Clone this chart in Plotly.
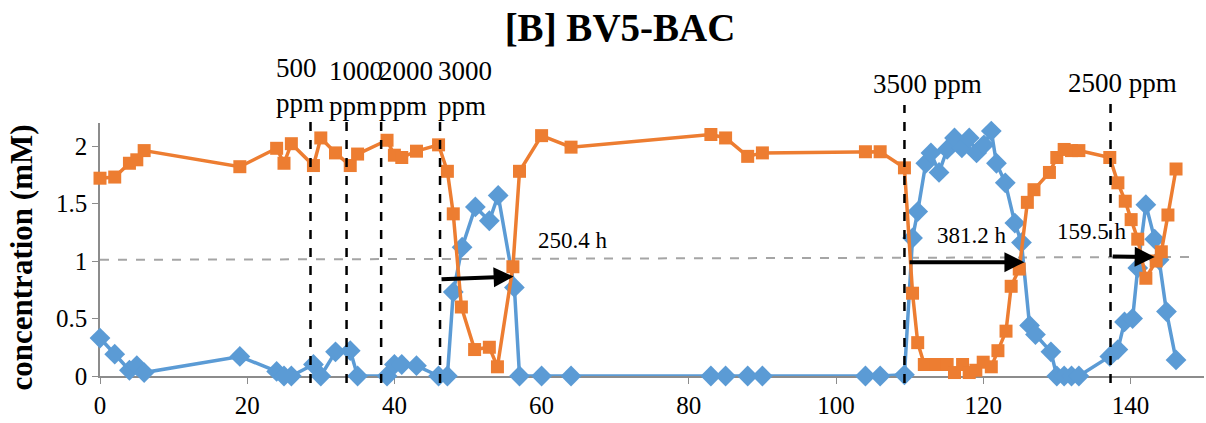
import plotly.graph_objects as go

# ---------------- data ----------------
orange_t = [0, 2, 4, 5, 6, 19, 24, 25, 26, 29, 30, 32, 34, 35, 39, 40, 41, 43, 46,
            47.2, 48, 49.1, 50.9, 52.9, 54, 56.1, 57, 60, 64, 83, 85, 88, 90, 104, 106,
            109.3, 110.4, 111.1, 112, 113.6, 115.1, 116.1, 117.2, 118.1, 119, 120, 121.1,
            122, 123.1, 123.8, 124.9, 126, 126.9, 129, 130, 131, 132, 133,
            137.2, 138.3, 139.3, 140.1, 141, 142.1, 143.5, 144.2, 145.1, 146.2]
orange_c = [1.72, 1.73, 1.85, 1.88, 1.96, 1.82, 1.98, 1.85, 2.02, 1.83, 2.07, 1.94, 1.83, 1.93, 2.05, 1.92, 1.90, 1.955, 2.01,
            1.78, 1.41, 0.60, 0.23, 0.25, 0.08, 0.95, 1.78, 2.09, 1.99, 2.10, 2.07, 1.91, 1.94, 1.95, 1.95,
            1.81, 0.72, 0.29, 0.10, 0.10, 0.10, 0.03, 0.10, 0.03, 0.05, 0.12, 0.08,
            0.22, 0.39, 0.78, 0.93, 1.51, 1.62, 1.77, 1.90, 1.97, 1.96, 1.96,
            1.90, 1.68, 1.52, 1.36, 1.19, 0.85, 1.00, 1.08, 1.40, 1.80]

blue_t = [0, 2, 4, 5, 6, 19, 24, 25, 26, 29, 30, 32, 34, 35, 39, 40, 41, 43, 46,
          47.2, 48, 49.2, 51, 52.9, 54.1, 56.3, 57, 60, 64, 83, 85, 88, 90, 104, 106,
          109.3, 110.4, 111.1, 112.2, 112.9, 114, 115.1, 116.1, 117.1, 118.1, 119.1, 120.1, 121.1,
          121.8, 123, 124.3, 125.2, 126.3, 127.1, 129.2, 130, 131, 132, 133,
          137.2, 138.3, 139.2, 140.3, 141, 142.1, 143.3, 143.9, 144.9, 146.2]
blue_c = [0.33, 0.19, 0.05, 0.09, 0.03, 0.17, 0.04, 0, 0, 0.10, 0, 0.21, 0.22, 0, 0, 0.10, 0.10, 0.09, 0,
          0, 0.73, 1.12, 1.47, 1.35, 1.57, 0.77, 0, 0, 0, 0, 0, 0, 0, 0, 0,
          0.01, 1.20, 1.43, 1.85, 1.94, 1.77, 1.97, 2.07, 1.985, 2.07, 1.94, 2.01, 2.13,
          1.85, 1.68, 1.33, 1.16, 0.44, 0.36, 0.21, 0, 0, 0, 0,
          0.17, 0.23, 0.47, 0.50, 0.94, 1.49, 1.19, 1.01, 0.56, 0.14]

# concentration change events (time h) and their labels
event_t = [28.6, 33.5, 38.2, 46.2, 109.3, 137.3]
event_top = [1.04, 1.004, 1.004, 1.024, 1.071, 1.099]   # paper
event_labels = ["500<br>ppm", "1000<br>ppm", "2000<br>ppm", "3000<br>ppm", "3500 ppm", "2500 ppm"]
event_label_x = [23.7, 30.8, 37.6, 45.7, 104.8, 131.2]
event_label_y = [1.150, 1.138, 1.138, 1.138, 1.154, 1.160]

# breakthrough arrows (start t, start c, end t, end c) and labels
arrow_start_t = [46.2, 109.8, 137.4]
arrow_start_c = [0.84, 0.99, 1.04]
arrow_end_t = [56.2, 125.6, 143.3]
arrow_end_c = [0.865, 0.99, 1.035]
arrow_labels = ["250.4 h", "381.2 h", "159.5 h"]
arrow_label_t = [59.3, 113.4, 129.7]
arrow_label_c = [1.18, 1.22, 1.255]

ref_t = [0, 148.3]
ref_c = [1.01, 1.035]

x_ticks = [0, 20, 40, 60, 80, 100, 120, 140]
y_ticks = [0, 0.5, 1, 1.5, 2]
y_tick_text = ["0", "0.5", "1", "1.5", "2"]

# ---------------- figure ----------------
FONT = "Liberation Serif, Times New Roman, serif"
BLUE = "#5B9BD5"
ORANGE = "#ED7D31"

fig = go.Figure()
fig.add_trace(go.Scatter(x=ref_t, y=ref_c, mode="lines",
                         line=dict(color="#A5A5A5", width=2, dash="dash"),
                         hoverinfo="skip", showlegend=False))
fig.add_trace(go.Scatter(x=blue_t, y=blue_c, mode="lines+markers", cliponaxis=False,
                         line=dict(color=BLUE, width=3.5),
                         marker=dict(symbol="diamond", size=16, color=BLUE),
                         showlegend=False))
fig.add_trace(go.Scatter(x=orange_t, y=orange_c, mode="lines+markers", cliponaxis=False,
                         line=dict(color=ORANGE, width=3.5),
                         marker=dict(symbol="square", size=13, color=ORANGE),
                         showlegend=False))

shapes = []
for t, top in zip(event_t, event_top):
    shapes.append(dict(type="line", xref="x", yref="paper", x0=t, x1=t, y0=-0.028, y1=top,
                       line=dict(color="black", width=2.5, dash="dash")))

annotations = []
for lab, lx, ly in zip(event_labels, event_label_x, event_label_y):
    annotations.append(dict(text=lab, x=lx, y=ly, xref="x", yref="paper", xanchor="left",
                            yanchor="middle", align="left", showarrow=False,
                            font=dict(family=FONT, size=27, color="black")))
for x0, y0, x1, y1 in zip(arrow_start_t, arrow_start_c, arrow_end_t, arrow_end_c):
    annotations.append(dict(x=x1, y=y1, ax=x0, ay=y0, xref="x", yref="y", axref="x", ayref="y",
                            showarrow=True, arrowhead=2, arrowsize=1, arrowwidth=4,
                            arrowcolor="black", text=""))
for lab, lx, ly in zip(arrow_labels, arrow_label_t, arrow_label_c):
    annotations.append(dict(text=lab, x=lx, y=ly, xref="x", yref="y", xanchor="left",
                            yanchor="middle", showarrow=False,
                            font=dict(family=FONT, size=23, color="black")))
annotations.append(dict(text="<b>concentration (mM)</b>",
                        x=(22 - 100.5) / 1103.5, y=(376 - 257) / 253,
                        xref="paper", yref="paper", xanchor="center", yanchor="middle",
                        showarrow=False, textangle=-90,
                        font=dict(family=FONT, size=31, color="black")))

fig.update_layout(
    width=1206, height=423,
    margin=dict(l=100, r=2, t=123, b=47),
    paper_bgcolor="white", plot_bgcolor="white",
    title=dict(text="<b>[B] BV5-BAC</b>", x=620 / 1206, xref="container", xanchor="center",
               y=1 - 27 / 423, yref="container", yanchor="middle",
               font=dict(family=FONT, size=39, color="black")),
    xaxis=dict(range=[0, 150], tickvals=x_ticks, showgrid=False, zeroline=False,
               showline=True, linecolor="#8C8C8C", linewidth=1.5, ticks="outside",
               ticklen=6, tickcolor="#8C8C8C", layer="below traces",
               tickfont=dict(family=FONT, size=25, color="black")),
    yaxis=dict(range=[0, 2.2], tickvals=y_ticks, ticktext=y_tick_text, showgrid=False,
               zeroline=False, showline=True, linecolor="#8C8C8C", linewidth=1.5,
               ticks="outside", ticklen=6, tickcolor="#8C8C8C", layer="below traces",
               tickfont=dict(family=FONT, size=25, color="black")),
    shapes=shapes, annotations=annotations,
)

fig.write_html("out.html")
